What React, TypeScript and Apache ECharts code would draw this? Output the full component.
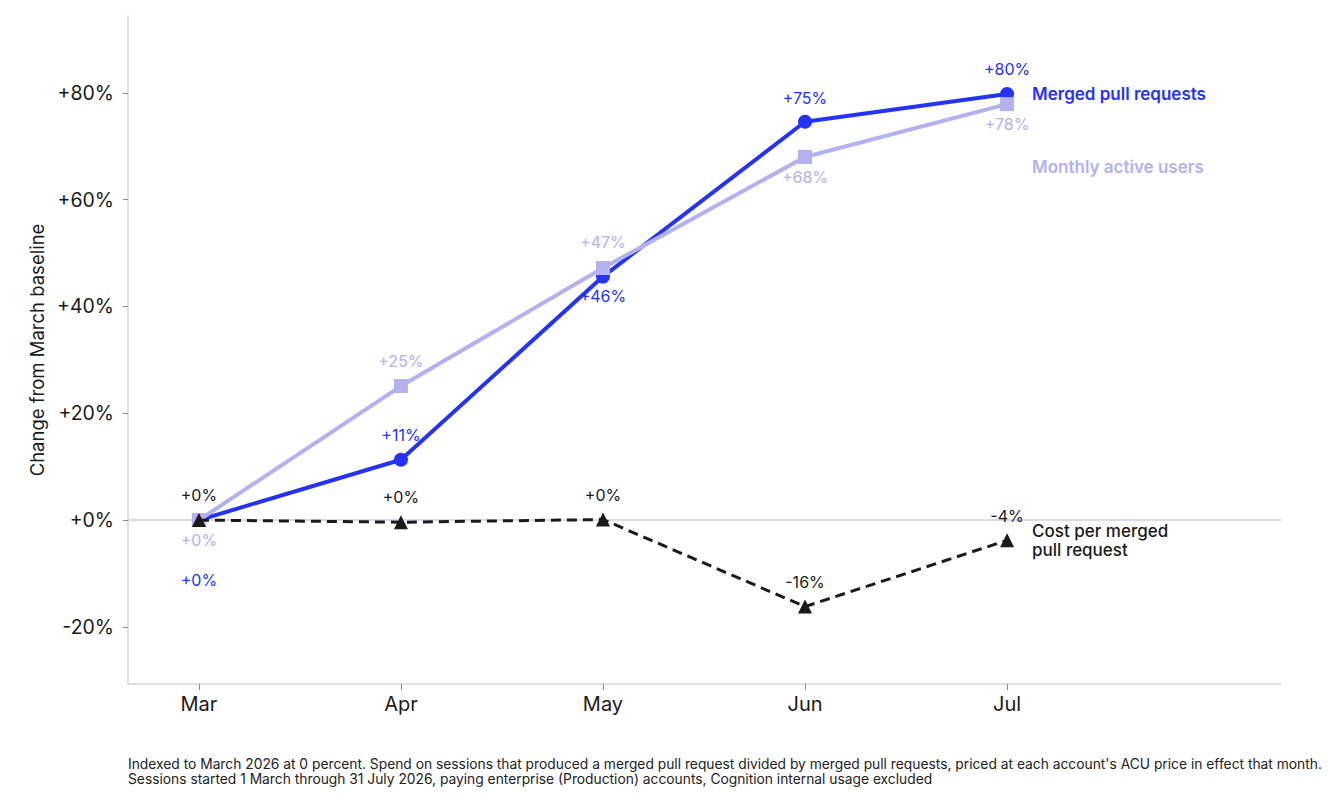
import React, { useEffect, useRef } from "react";
import * as echarts from "echarts";

const months = ["Mar", "Apr", "May", "Jun", "Jul"];
const mergedPRs = [0, 11.3, 45.6, 74.6, 79.8];
const monthlyActiveUsers = [0, 25.1, 47.2, 68.0, 77.9];
const costPerPR = [0, -0.4, 0.1, -16.2, -3.8];
const yTicks = [-20, 0, 20, 40, 60, 80];

const mprLabelPos = [
  ["bottom", 45],
  ["top", 10],
  ["bottom", 4],
  ["top", 9],
  ["top", 10],
];
const mauLabelPos = [
  ["bottom", 5],
  ["top", 10],
  ["top", 11],
  ["bottom", 5],
  ["bottom", 5],
];
const costLabelPos = [
  ["top", 10],
  ["top", 10],
  ["top", 10],
  ["top", 10],
  ["top", 9],
];

const BLUE = "#2433f5";
const LAV = "#b3b1ef";
const DARK = "#1a1a1a";
const FONT = "Inter, 'Noto Sans', sans-serif";

const fmt = (v: number) => {
  const r = Math.round(v);
  return (r < 0 ? "-" : "+") + String(Math.abs(r)) + "%";
};

function buildData(values: number[], pos: any[], color: string) {
  return values.map((v, i) => ({
    value: [i, v],
    label: {
      show: true,
      position: pos[i][0],
      distance: pos[i][1],
      formatter: () => fmt(v),
      color,
      fontSize: 16,
      fontFamily: FONT,
    },
  }));
}

export default function App() {
  const ref = useRef<HTMLDivElement>(null);
  useEffect(() => {
    document.body.style.margin = "0";
    if (!ref.current) return;
    const chart = echarts.init(ref.current, undefined, { renderer: "svg" });
    chart.setOption({
      animation: false,
      textStyle: { fontFamily: FONT },
      grid: { left: 128, right: 63, top: 16, bottom: 124 },
      xAxis: {
        type: "value",
        min: -0.351,
        max: 5.356,
        splitLine: { show: false },
        axisLine: {
          show: true,
          onZero: false,
          lineStyle: { color: "#d6d6d6", width: 1.5 },
        },
        axisTick: {
          show: true,
          customValues: [0, 1, 2, 3, 4],
          length: 6,
          lineStyle: { color: "#888" },
        },
        axisLabel: {
          customValues: [0, 1, 2, 3, 4],
          formatter: (v: number) => months[Math.round(v)] ?? "",
          color: DARK,
          fontSize: 20,
          margin: 10,
          fontFamily: FONT,
        },
      },
      yAxis: {
        type: "value",
        min: -30.7,
        max: 94.4,
        name: "Change from March baseline",
        nameLocation: "middle",
        nameGap: 77,
        nameTextStyle: { color: DARK, fontSize: 18.5, fontFamily: FONT },
        splitLine: { show: false },
        axisLine: {
          show: true,
          onZero: false,
          lineStyle: { color: "#d6d6d6", width: 1.5 },
        },
        axisTick: {
          show: true,
          customValues: yTicks,
          length: 5,
          lineStyle: { color: "#888" },
        },
        axisLabel: {
          customValues: yTicks,
          formatter: (v: number) => (v < 0 ? "" : "+") + v + "%",
          color: DARK,
          fontSize: 19.5,
          margin: 14,
          fontFamily: FONT,
        },
      },
      series: [
        {
          type: "line",
          name: "Merged pull requests",
          data: buildData(mergedPRs, mprLabelPos, BLUE),
          symbol: "circle",
          symbolSize: 14,
          lineStyle: { color: BLUE, width: 4 },
          itemStyle: { color: BLUE },
          z: 2,
          markLine: {
            silent: true,
            symbol: "none",
            label: { show: false },
            lineStyle: { color: "#cfcfec", width: 1.5, type: "solid" },
            data: [{ yAxis: 0 }],
            z: 1,
          },
          endLabel: {
            show: true,
            formatter: "Merged pull requests",
            color: BLUE,
            fontSize: 17,
            fontWeight: 600,
            distance: 25,
            fontFamily: FONT,
          },
        },
        {
          type: "line",
          name: "Monthly active users",
          data: buildData(monthlyActiveUsers, mauLabelPos, LAV),
          symbol: "rect",
          symbolSize: 14,
          lineStyle: { color: LAV, width: 4 },
          itemStyle: { color: LAV },
          z: 3,
          endLabel: {
            show: true,
            formatter: "Monthly active users",
            color: LAV,
            fontSize: 17,
            fontWeight: 600,
            distance: 25,
            offset: [0, 63],
            fontFamily: FONT,
          },
        },
        {
          type: "line",
          name: "Cost per merged pull request",
          data: buildData(costPerPR, costLabelPos, DARK),
          symbol: "triangle",
          symbolSize: 14,
          lineStyle: { color: DARK, width: 3, type: [10, 6] },
          itemStyle: { color: DARK },
          z: 4,
          endLabel: {
            show: true,
            formatter: "Cost per merged\npull request",
            color: DARK,
            fontSize: 17,
            fontWeight: 500,
            lineHeight: 19,
            distance: 25,
            offset: [0, 0],
            fontFamily: FONT,
          },
        },
      ],
      graphic: [
        {
          type: "text",
          left: 128,
          top: 756,
          style: {
            text:
              "Indexed to March 2026 at 0 percent. Spend on sessions that produced a merged pull request divided by merged pull requests, priced at each account's ACU price in effect that month.\nSessions started 1 March through 31 July 2026, paying enterprise (Production) accounts, Cognition internal usage excluded",
            fontSize: 13.8,
            lineHeight: 15,
            fill: "#222",
            fontFamily: FONT,
          },
        },
      ],
    });
    return () => chart.dispose();
  }, []);
  return <div ref={ref} style={{ width: 1344, height: 808 }} />;
}
